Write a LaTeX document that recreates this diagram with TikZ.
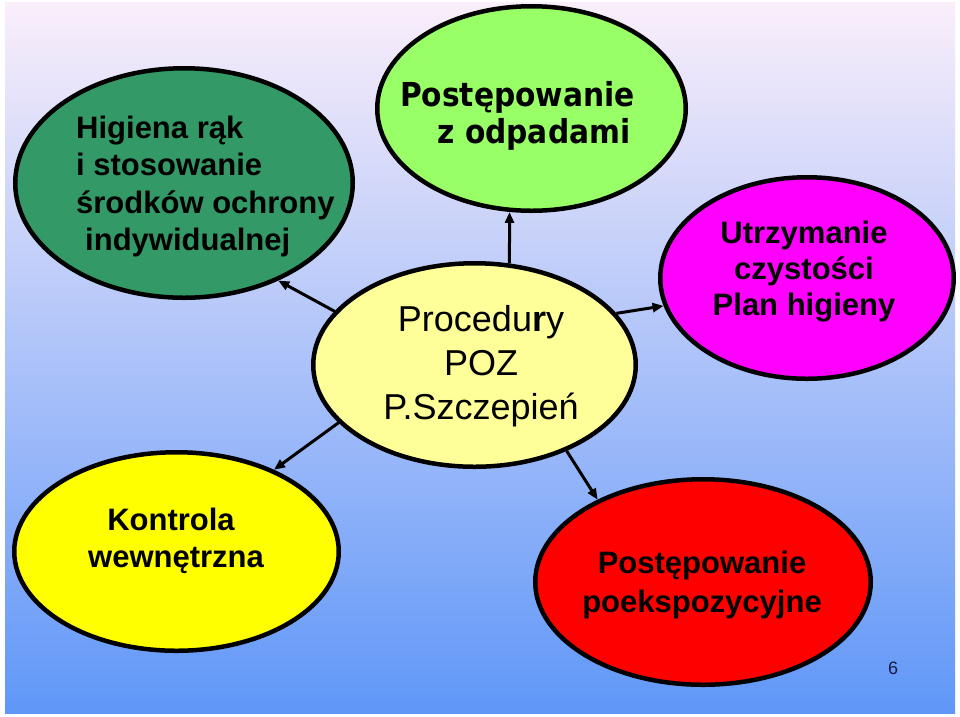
\documentclass[tikz,border=0pt]{standalone}
\usepackage{fontspec}
\setmainfont{Liberation Sans}
\newfontfamily\tah{DejaVu Sans Condensed}
\usetikzlibrary{shapes.geometric,arrows.meta}
\newcommand{\cstack}[1]{\vtop{\halign{\hfil##\hfil\cr#1\crcr}}}
\newcommand{\lstack}[1]{\vtop{\halign{##\hfil\cr#1\crcr}}}
\definecolor{dkgreen}{HTML}{339966}
\definecolor{ltgreen}{HTML}{99FF66}
\definecolor{ltyellow}{HTML}{FFFF99}
\definecolor{magentaF}{HTML}{FF00FF}
\definecolor{yellowF}{HTML}{FFFF00}
\definecolor{redF}{HTML}{FF0000}
\definecolor{bgtop}{HTML}{FAEEFA}
\definecolor{bgmid}{HTML}{AFCAF0}
\definecolor{bgbot}{HTML}{5F97F8}
\definecolor{navy}{HTML}{1A1A40}
\begin{document}
\begin{tikzpicture}[x=1pt,y=-1pt,
  bubble/.style={ellipse,draw=black,line width=4.5pt,inner sep=0pt},
  conn/.style={line width=3pt,-{Triangle[length=11pt,width=9pt]}},
  lbl/.style={inner sep=0pt,anchor=base,font=\bfseries\fontsize{31}{37.5}\selectfont},
]
\useasboundingbox (0,0) rectangle (960,716);
\fill[white] (0,0) rectangle (960,716);
\shade[top color=bgtop, middle color=bgmid, bottom color=bgbot] (5,2) rectangle (955,713);

\node[bubble,fill=dkgreen,minimum width=337.5pt,minimum height=229.5pt] (e1) at (184,183) {};
\node[bubble,fill=ltgreen,minimum width=308.5pt,minimum height=204.5pt] (e2) at (531.5,108.5) {};
\node[bubble,fill=ltyellow,minimum width=322.5pt,minimum height=203.5pt] (e3) at (474.5,365) {};
\node[bubble,fill=magentaF,minimum width=293.5pt,minimum height=201.5pt] (e4) at (807,278) {};
\node[bubble,fill=yellowF,minimum width=324.5pt,minimum height=198.5pt] (e5) at (176.5,551.5) {};
\node[bubble,fill=redF,minimum width=335.5pt,minimum height=205.5pt] (e6) at (703,582) {};

\draw[conn] (e3.159.3) -- (e1.314.7);
\draw[conn] (e3.71) -- (e2.258.4);
\draw[conn] (e3.20.05) -- (e4.191.2);
\draw[conn] (e3.203) -- (e5.40.06);
\draw[conn] (e3.317.3) -- (e6.142.5);

\node[lbl,anchor=base west] (t1) at (76,138) {\lstack{Higiena rąk\cr i stosowanie\cr środków ochrony\cr\hspace*{9pt}indywidualnej}};
\node[lbl,font=\tah\bfseries\fontsize{33}{37}\selectfont] (t2) at (517.5,106) {\cstack{Postępowanie\cr\hspace*{33pt}z odpadami}};
\node[lbl,font=\fontsize{36}{44}\selectfont] (t3) at (481,331) {\cstack{Procedu\textbf{r}y\cr POZ\cr P.Szczepień}};
\node[lbl,font=\bfseries\fontsize{31}{36}\selectfont] (t4) at (804,243) {\cstack{Utrzymanie\cr czystości\cr Plan higieny}};
\node[lbl,font=\bfseries\fontsize{31}{37}\selectfont] (t5) at (171,530) {\cstack{Kontrola\cr\hspace*{10pt}wewnętrzna}};
\node[lbl,font=\bfseries\fontsize{31}{39}\selectfont] (t6) at (702,573) {\cstack{Postępowanie\cr poekspozycyjne}};
\node[inner sep=0pt,anchor=base,text=navy,font=\fontsize{18}{20}\selectfont] (pg) at (893,674) {6};
\end{tikzpicture}
\end{document}
